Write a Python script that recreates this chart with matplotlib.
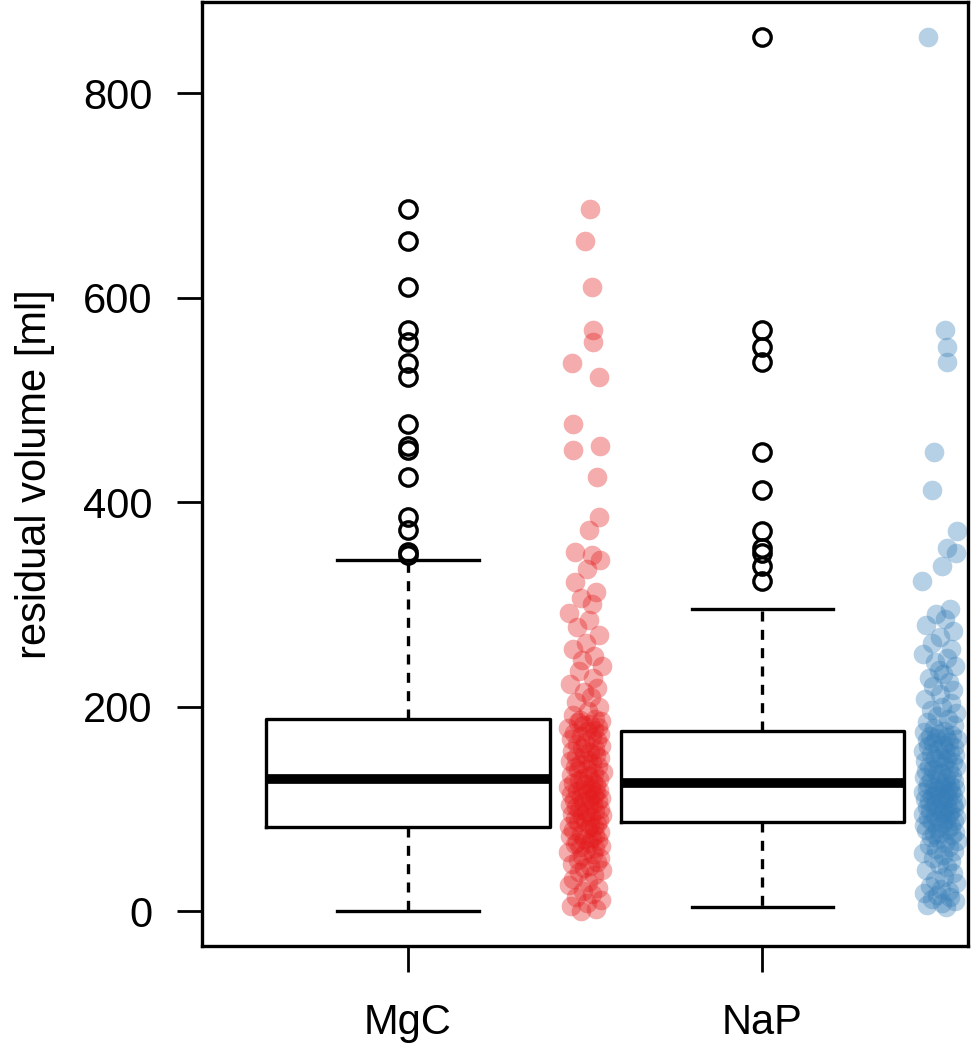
import matplotlib
matplotlib.use("Agg")
import matplotlib.pyplot as plt
import numpy as np

plt.rcParams['font.family'] = ['Liberation Sans', 'DejaVu Sans']

groups = ["MgC", "NaP"]

# residual volume [ml], sorted ascending
mgc = [0,
       2, 5, 8, 11, 14, 17, 20, 23, 26, 29, 32, 35, 38, 40, 42, 44, 46, 48, 50, 52,
       54, 56, 58, 60, 62, 63, 64, 66, 67, 68, 70, 71, 72, 74, 75, 76, 78, 79, 80,
       82,
       83, 84, 85, 87, 88, 89, 90, 92, 93, 94, 95, 97, 98, 99, 100, 102, 103, 104, 105, 107,
       108, 109, 110, 111, 112, 114, 115, 116, 117, 118, 119, 120, 121, 122, 123, 124, 125, 126, 128,
       129,
       130, 132, 133, 135, 136, 138, 139, 141, 142, 144, 145, 147, 148, 150, 151, 153, 154, 156, 157, 159,
       160, 162, 164, 165, 167, 168, 170, 171, 173, 174, 176, 177, 179, 180, 182, 183, 185, 186, 187,
       188,
       192, 196, 200, 205, 210, 214, 218, 222, 228, 235, 240, 246, 250, 256, 262, 270, 278, 285, 292, 300,
       306, 312, 322, 335, 343,
       348, 351, 373, 386, 425, 451, 455, 476, 522, 536, 557, 568, 610, 655, 687]

nap = [4,
       6, 8, 10, 12, 14, 16, 18, 20, 22, 25, 28, 31, 34, 37, 40, 43, 46, 49, 52, 55,
       57, 59, 61, 63, 65, 67, 69, 71, 73, 75, 76, 77, 78, 79, 80, 81, 83, 84, 86,
       87,
       88, 89, 90, 91, 92, 93, 94, 95, 96, 97, 98, 99, 100, 101, 102, 103, 104, 105, 106, 107,
       108, 109, 110, 111, 112, 113, 114, 115, 116, 117, 118, 119, 119, 120, 121, 122, 122, 123, 124,
       125,
       126, 127, 129, 130, 131, 133, 134, 135, 137, 138, 139, 141, 142, 143, 145, 146, 147, 149, 150, 151,
       153, 154, 155, 157, 158, 159, 161, 162, 163, 165, 166, 167, 168, 169, 170, 171, 172, 173, 175,
       176,
       179, 182, 185, 188, 191, 194, 197, 200, 204, 208, 212, 216, 220, 224, 228, 232, 236, 240, 244, 248,
       252, 256, 262, 268, 274, 280, 286, 291, 296,
       323, 338, 350, 355, 372, 412, 449, 537, 552, 568, 855]

# horizontal jitter of the strip points (thousandths of a group step)
mgc_jit = [-12, 31, -40, 5, 44, -27, 18, -6, 37, -45,
           9, -33, 26, -18, 48, -2, 14, -38, 33, -21,
           41, -9, 22, -47, 3, 29, -15, 46, -30, 11,
           -24, 36, -4, 19, -42, 27, -11, 43, -35, 7,
           24, -46, 13, 34, -20, -1, 39, -28, 16, -8,
           47, -36, 2, 28, -16, 42, -25, 10, -43, 21,
           -5, 35, -31, 15, 45, -13, 25, -39, 6, 32,
           -22, 40, -10, 17, -48, 30, 1, -34, 23, -17,
           38, -7, 12, -41, 26, 49, -19, 4, -29, 37,
           -14, 20, -44, 8, 43, -26, 31, -3, 14, -37,
           27, -9, 46, -23, 0, 33, -40, 18, -12, 41,
           -32, 6, 24, -47, 36, -6, 13, -21, 44, -15,
           29, -35, 9, 40, -27, 16, -2, 34, -42, 22,
           -18, 47, -8, 25, -33, 3, 38, -24, 11, -45,
           19, -11, 30, -30, 5, 42,
           20, -28, 11, 39, 34, -34, 42, -34, 39, -37, 23, 23, 20, 0, 14]

nap_jit = [18, -35, 7, 42, -22, 30, -9, -44, 25, 3,
           -28, 46, -14, 12, 37, -40, 21, -3, 33, -19,
           8, -47, 40, -11, 27, -31, 15, 48, -6, -25,
           35, -16, 2, 44, -38, 23, -8, 31, -43, 10,
           -21, 39, -1, 17, -34, 45, -13, 26, -46, 5,
           29, -27, 13, -5, 41, -36, 20, -17, 36, -10,
           47, -30, 9, -42, 24, 1, -23, 38, -12, 16,
           -48, 32, -7, 22, -37, 43, -15, 6, 28, -33,
           14, -2, 40, -26, 19, -45, 34, -9, 4, -39,
           25, -18, 46, -29, 11, -4, 37, -41, 21, -14,
           3, 43, -24, 30, -47, 15, -6, 39, -32, 8,
           -20, 27, -37, 48, -11, 18, -28, 34, -1, -44,
           12, -16, 41, -35, 23, -8, 45, -25, 7, 31,
           -42, 2, 36, -19, 26, -30, 10, -3, 44, -13,
           20, -46, 33, -22, 0, 38, -38, 14, -10, 29,
           -50, 6, 45, 20, 48, -23, -17, 20, 20, 14, -34]

fig = plt.figure(figsize=(9.72, 10.5), dpi=100)
ax = fig.add_axes([0.208, 0.099, 0.788, 0.899])

ax.boxplot([mgc, nap], positions=[1, 2], widths=0.8, capwidths=0.4,
           boxprops=dict(color='black', linewidth=2.4),
           medianprops=dict(color='black', linewidth=7, solid_capstyle='butt'),
           whiskerprops=dict(color='black', linewidth=2.4, linestyle=(0, (3.0, 2.5))),
           capprops=dict(color='black', linewidth=2.4),
           flierprops=dict(marker='o', markerfacecolor='none', markeredgecolor='black',
                           markersize=12.5, markeredgewidth=2.4))

ax.scatter(1.5 + np.array(mgc_jit) / 1000, mgc, s=200, color='#E41A1C',
           alpha=0.36, linewidths=0)
ax.scatter(2.5 + np.array(nap_jit) / 1000, nap, s=200, color='#377EB8',
           alpha=0.36, linewidths=0)

ax.set_xlim(0.42, 2.58)
ax.set_ylim(-34, 889)
ax.set_xticks([1, 2])
ax.set_xticklabels(groups)
ax.set_yticks([0, 200, 400, 600, 800])
ax.tick_params(axis='y', direction='out', length=18, width=2, labelsize=30, pad=18)
ax.tick_params(axis='x', direction='out', length=19, width=2, labelsize=30, pad=22)
ax.set_ylabel("residual volume [ml]", fontsize=30, labelpad=20)
for s in ax.spines.values():
    s.set_linewidth(2.4)

fig.savefig("out.png", dpi=100)
